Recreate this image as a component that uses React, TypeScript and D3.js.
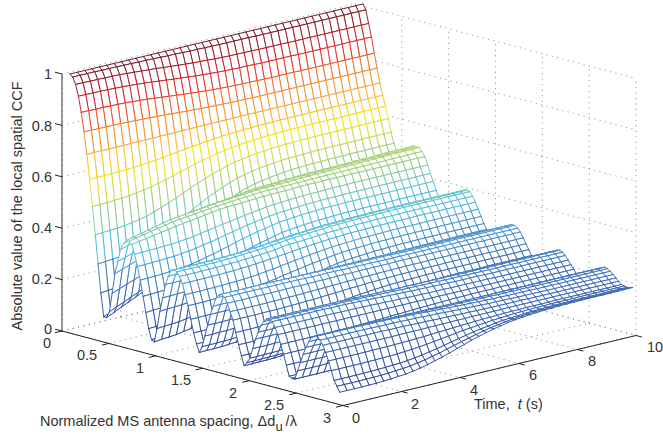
import * as d3 from "d3";

const W = 663;
const H = 438;

const timeTicks = [0, 2, 4, 6, 8, 10];
const spacingTicks = [0, 0.5, 1, 1.5, 2, 2.5, 3];
const spacingTickLabels = ["0", "0.5", "1", "1.5", "2", "2.5", "3"];
const ccfTicks = [0, 0.2, 0.4, 0.6, 0.8, 1];
const ccfTickLabels = ["0", "0.2", "0.4", "0.6", "0.8", "1"];

// mesh columns, seconds
const time = [0, 0.25, 0.5, 0.75, 1, 1.25, 1.5, 1.75, 2, 2.25, 2.5, 2.75, 3, 3.25, 3.5, 3.75, 4, 4.25, 4.5, 4.75, 5, 5.25, 5.5, 5.75, 6, 6.25, 6.5, 6.75, 7, 7.25, 7.5, 7.75, 8, 8.25, 8.5, 8.75, 9, 9.25, 9.5, 9.75, 10];

// mesh rows
const spacing = [0, 0.03, 0.06, 0.09, 0.12, 0.15, 0.18, 0.21, 0.24, 0.27, 0.3, 0.33, 0.36, 0.39, 0.42, 0.45, 0.48, 0.51, 0.54, 0.57, 0.6, 0.63, 0.66, 0.69, 0.72, 0.75, 0.78, 0.81, 0.84, 0.87, 0.9, 0.93, 0.96, 0.99, 1.02, 1.05, 1.08, 1.11, 1.14, 1.17, 1.2, 1.23, 1.26, 1.29, 1.32, 1.35, 1.38, 1.41, 1.44, 1.47, 1.5, 1.53, 1.56, 1.59, 1.62, 1.65, 1.68, 1.71, 1.74, 1.77, 1.8, 1.83, 1.86, 1.89, 1.92, 1.95, 1.98, 2.01, 2.04, 2.07, 2.1, 2.13, 2.16, 2.19, 2.22, 2.25, 2.28, 2.31, 2.34, 2.37, 2.4, 2.43, 2.46, 2.49, 2.52, 2.55, 2.58, 2.61, 2.64, 2.67, 2.7, 2.73, 2.76, 2.79, 2.82, 2.85, 2.88];

// |CCF| x 1000, one row per spacing, one value per time
const ccf = [
  [1000,1000,1000,1000,1000,1000,1000,1000,1000,1000,1000,1000,1000,1000,1000,1000,1000,1000,1000,1000,1000,1000,1000,1000,1000,1000,1000,1000,1000,1000,1000,1000,1000,1000,1000,1000,1000,1000,1000,1000,1000],
  [991,991,991,991,990,990,990,989,989,988,988,987,986,985,985,984,983,983,982,982,981,981,981,981,981,980,980,980,980,980,980,980,980,980,980,980,980,980,980,980,980],
  [965,965,964,964,963,963,962,960,958,956,954,952,949,947,944,942,940,938,937,935,934,933,933,932,932,931,931,931,931,930,930,930,930,930,930,930,930,930,930,930,930],
  [922,922,921,921,920,919,918,916,914,912,909,906,903,900,897,895,892,890,888,886,885,884,883,883,882,881,881,881,881,881,880,880,880,880,880,880,880,880,880,880,880],
  [862,862,861,861,860,859,858,856,854,852,849,846,843,840,837,835,832,830,828,826,825,824,823,823,822,821,821,821,821,821,820,820,820,820,820,820,820,820,820,820,820],
  [789,789,788,788,788,787,786,785,784,783,781,780,778,776,774,773,771,770,769,768,767,766,766,765,765,765,765,765,765,765,765,765,765,765,765,765,765,765,765,765,765],
  [705,705,705,705,705,705,706,706,706,706,707,707,707,708,708,708,709,709,709,709,709,710,710,710,710,710,710,710,710,710,710,710,710,710,710,710,710,710,710,710,710],
  [610,611,611,612,613,614,616,618,620,624,627,631,635,639,642,646,649,652,655,657,658,660,661,662,663,663,664,664,664,664,664,665,665,665,665,665,665,665,665,665,665],
  [507,508,509,511,513,515,519,524,529,537,544,552,560,568,577,584,591,597,603,607,611,614,616,618,620,621,622,623,623,624,624,624,624,624,624,625,625,625,625,625,625],
  [400,402,404,405,409,413,418,425,434,445,456,468,481,494,506,517,528,537,546,553,558,563,567,569,572,574,576,576,577,578,578,579,579,579,579,579,580,580,580,580,580],
  [290,292,295,297,302,307,314,324,336,350,364,381,398,415,432,446,460,472,484,494,501,507,512,516,519,522,524,525,526,527,528,528,529,529,529,529,530,530,530,530,530],
  [180,183,186,189,196,202,211,223,239,258,276,298,320,341,363,382,400,416,431,444,453,461,467,471,476,479,482,484,485,486,487,488,488,488,489,489,489,490,490,490,490],
  [90,102,113,125,137,148,160,182,203,225,247,268,290,308,327,345,363,382,400,408,417,425,433,442,450,451,451,452,452,453,454,454,455,456,456,457,458,458,459,459,460],
  [90,103,117,130,143,157,170,191,212,232,253,274,295,313,332,350,368,387,405,413,421,429,436,444,452,453,454,455,455,456,457,458,458,459,460,461,462,462,463,464,465],
  [115,128,140,153,165,178,190,210,230,250,270,290,310,328,347,365,383,402,420,427,433,440,447,453,460,461,461,462,462,463,464,464,465,466,466,467,468,468,469,469,470],
  [190,201,212,223,233,244,255,272,288,305,322,338,355,368,382,395,408,422,435,440,445,450,455,460,465,466,466,467,467,468,469,469,470,471,471,472,473,473,474,474,475],
  [270,280,290,300,310,320,330,342,353,365,377,388,400,408,417,425,433,442,450,453,457,460,463,467,470,471,471,472,472,473,474,474,475,476,476,477,478,478,479,479,480],
  [320,329,338,348,357,366,375,384,393,403,412,421,430,436,442,448,453,459,465,468,470,473,475,478,480,481,481,482,482,483,484,484,485,486,486,487,488,488,489,489,490],
  [370,378,387,395,403,412,420,426,432,438,443,449,455,459,463,468,472,476,480,482,483,485,487,488,490,491,491,492,492,493,494,494,495,496,496,497,498,498,499,499,500],
  [395,403,410,418,425,433,440,444,448,453,457,461,465,468,472,475,478,482,485,486,487,488,490,491,492,492,493,493,494,494,495,495,496,496,497,497,498,498,499,499,500],
  [410,417,423,430,437,443,450,453,457,460,463,467,470,473,475,478,480,483,485,486,486,487,488,489,490,491,491,492,492,493,494,494,495,496,496,497,498,498,499,499,500],
  [410,416,422,428,433,439,445,448,452,455,458,462,465,467,469,472,474,476,478,479,479,480,480,481,482,482,482,483,483,483,484,484,484,485,485,485,486,486,486,487,487],
  [400,405,410,415,420,425,430,434,438,442,447,451,455,457,458,460,462,463,465,466,466,467,468,469,470,470,470,470,470,470,470,470,470,470,470,470,470,470,470,470,470],
  [365,366,367,367,369,370,373,376,379,385,390,395,400,404,409,414,418,422,426,429,431,433,435,436,437,437,438,439,439,439,440,440,440,440,440,440,440,440,440,440,440],
  [320,321,322,323,325,326,329,333,337,343,348,354,361,367,373,379,384,388,393,397,399,401,403,405,406,407,408,408,409,409,409,409,409,410,410,410,410,410,410,410,410],
  [270,271,272,273,276,278,281,285,291,298,304,312,320,328,336,343,350,355,361,366,369,372,374,376,377,379,380,380,381,381,381,381,381,381,381,382,382,382,382,382,382],
  [210,211,213,214,217,220,224,230,237,245,253,263,273,283,293,301,309,316,323,329,333,336,339,341,343,344,346,347,348,348,349,349,349,349,349,350,350,350,350,350,350],
  [150,152,154,155,159,162,168,175,183,194,204,217,229,241,253,264,274,283,292,299,304,308,312,314,317,319,321,322,322,323,323,324,324,324,324,324,325,325,325,325,325],
  [90,92,94,96,101,106,112,120,131,144,157,172,186,201,216,229,241,252,262,271,277,282,286,290,293,295,297,298,299,299,300,300,301,301,304,304,304,305,305,305,305],
  [50,53,55,58,63,68,75,85,97,113,128,145,163,180,198,213,228,240,253,263,270,276,281,285,289,291,294,295,296,297,298,298,299,299,299,299,299,300,300,300,300],
  [45,48,50,53,58,63,71,81,93,109,124,142,160,177,195,211,226,239,252,262,270,276,281,285,288,291,294,295,296,297,298,298,299,299,299,299,300,300,300,300,300],
  [100,102,104,106,111,115,121,129,139,153,165,179,194,208,221,233,245,255,265,274,279,285,289,292,296,298,300,301,302,302,303,303,304,305,306,306,307,308,309,310,310],
  [170,172,173,175,178,180,185,191,199,208,217,227,237,247,256,265,274,282,287,292,297,300,303,305,307,309,310,311,312,312,313,314,315,316,316,317,318,318,319,319,320],
  [225,226,227,228,230,233,236,240,246,252,259,267,275,283,290,297,303,309,315,319,322,325,327,328,330,331,332,332,333,333,334,334,334,334,334,335,335,335,335,335,335],
  [280,280,280,281,281,282,283,285,287,290,293,298,302,307,312,316,320,325,328,331,334,336,338,339,340,341,342,343,344,344,345,345,345,345,346,346,346,347,348,349,350],
  [315,315,315,316,316,317,318,319,320,322,325,328,331,335,338,342,346,349,352,355,357,359,361,362,363,364,365,365,366,366,366,366,366,367,367,367,367,367,367,367,367],
  [340,340,340,340,341,341,342,343,344,346,348,350,352,355,358,361,364,366,368,370,372,374,375,376,377,378,378,379,379,379,380,380,380,380,380,380,380,380,380,380,380],
  [345,345,345,345,346,346,347,348,349,350,352,355,357,360,362,365,367,370,372,374,376,377,378,379,380,381,381,382,382,382,383,383,383,383,383,383,383,383,383,383,383],
  [340,340,340,340,341,341,342,343,344,346,348,350,352,355,358,361,364,366,368,370,372,374,375,376,377,378,378,379,379,379,379,380,380,380,380,380,380,380,380,380,380],
  [325,325,325,325,326,326,327,328,329,331,333,335,337,340,345,348,349,351,353,355,357,359,360,361,362,363,363,364,364,364,364,365,365,365,365,365,365,365,365,365,365],
  [300,300,300,300,301,301,302,303,305,306,309,311,314,317,320,323,327,329,332,334,336,338,340,341,342,342,343,343,344,344,344,344,345,345,345,345,345,345,345,345,345],
  [260,260,260,261,261,262,263,264,266,268,271,275,278,283,287,291,295,299,302,306,309,311,313,314,316,316,317,318,319,319,319,319,319,320,320,320,320,320,320,320,320],
  [220,220,220,221,222,222,224,225,228,231,234,239,243,249,254,259,264,269,273,277,281,284,286,288,289,291,292,292,293,293,294,294,294,294,295,295,295,295,295,295,295],
  [170,170,171,171,172,173,175,177,180,184,189,195,201,208,215,222,229,235,240,246,251,255,258,260,262,264,265,266,267,268,268,269,269,269,269,270,270,270,270,270,270],
  [120,120,121,121,123,124,127,129,133,138,145,153,160,169,179,188,197,205,212,219,225,231,234,238,240,242,244,245,247,247,248,248,249,249,249,249,250,250,250,250,250],
  [80,80,81,82,83,85,88,91,96,103,111,121,131,142,153,165,176,186,196,204,212,219,223,228,231,233,236,237,239,240,241,241,241,242,242,242,242,243,243,243,243],
  [50,51,51,52,54,56,60,63,69,76,86,98,110,124,138,152,166,177,189,199,208,215,221,226,230,233,235,237,239,240,241,241,241,242,242,242,242,242,242,240,240],
  [75,76,76,77,78,80,83,87,92,98,106,116,126,138,149,161,172,182,192,200,209,215,220,224,228,230,233,234,236,237,238,238,238,239,239,239,239,239,240,240,240],
  [120,120,121,121,123,124,126,129,133,138,144,151,159,167,176,184,193,200,207,214,220,224,228,231,234,235,237,238,239,240,241,241,242,243,243,244,244,244,245,245,245],
  [165,165,165,166,167,167,170,170,174,178,183,188,194,200,207,212,218,224,229,233,237,240,243,245,247,248,250,250,251,252,254,255,256,256,257,257,257,257,258,258,258],
  [210,210,210,211,211,212,213,214,216,219,222,225,229,233,237,241,245,248,252,255,258,260,262,263,264,265,266,267,268,269,269,269,269,269,270,270,270,270,270,270,270],
  [245,245,245,245,246,246,247,247,249,250,252,254,256,258,261,263,266,268,270,271,273,275,276,277,278,278,279,279,279,279,279,280,280,280,280,280,280,280,280,280,280],
  [280,280,280,280,280,280,281,281,281,281,282,283,283,284,285,285,286,287,287,288,288,289,289,289,289,289,290,290,290,290,290,290,290,290,290,290,290,290,290,290,290],
  [293,293,293,293,293,293,293,293,293,293,293,294,294,294,294,294,294,294,294,295,295,295,295,295,295,295,295,295,295,295,295,295,295,295,295,295,295,295,295,295,295],
  [300,300,300,300,300,300,300,300,299,299,299,299,298,298,298,297,297,297,296,296,296,296,296,296,295,295,295,295,295,295,295,295,295,295,295,295,295,295,295,295,295],
  [290,290,290,290,290,290,290,290,290,290,290,289,289,289,289,289,288,288,288,288,288,287,287,287,287,287,287,287,287,287,287,287,287,287,287,287,287,287,287,287,287],
  [270,270,270,270,270,270,270,270,271,271,271,271,272,272,272,273,273,273,274,274,274,274,274,275,275,275,275,275,275,275,275,275,275,275,275,275,275,275,275,275,275],
  [240,240,240,240,240,240,241,241,242,242,243,244,245,246,247,248,249,250,251,251,252,253,253,254,254,254,254,255,255,255,255,255,255,255,255,255,255,255,255,255,255],
  [210,210,210,210,211,211,211,212,213,214,215,216,218,220,221,223,225,226,228,229,230,231,232,233,233,234,234,234,234,235,235,235,235,235,235,235,235,235,235,235,235],
  [165,165,165,166,166,167,168,169,170,172,175,178,181,184,188,191,195,198,201,203,206,208,209,210,211,212,213,213,214,214,214,214,214,215,215,215,215,215,215,215,215],
  [120,120,120,121,122,122,124,125,128,131,134,139,143,149,154,159,164,169,173,177,181,184,186,188,189,191,192,192,193,194,194,194,194,194,195,195,195,195,195,195,195],
  [80,80,81,81,82,83,85,87,90,94,99,105,111,118,125,132,139,145,151,156,161,165,168,171,173,174,176,177,178,178,178,179,179,179,179,180,180,180,180,180,180],
  [45,45,46,46,47,49,51,54,58,63,69,76,84,93,101,110,119,126,134,140,146,151,155,158,161,163,164,166,167,167,168,168,169,169,169,169,169,170,170,170,170],
  [60,60,61,61,62,63,66,68,71,76,81,88,94,103,110,117,125,132,138,143,149,153,156,159,161,163,165,166,167,167,168,168,169,169,169,169,170,170,170,170,170],
  [80,80,81,81,82,83,85,87,90,93,98,104,110,117,124,130,137,143,148,153,157,161,164,166,168,170,171,172,173,173,174,174,174,174,175,175,175,175,175,175,175],
  [120,120,120,121,121,122,124,125,127,130,133,138,142,146,151,156,161,165,169,173,176,179,181,183,184,186,186,187,188,188,189,189,189,189,189,190,190,190,190,190,190],
  [160,160,160,160,161,161,162,163,165,166,169,171,174,177,180,183,187,189,192,194,196,198,200,201,202,202,203,203,204,204,204,204,205,205,205,205,205,205,205,205,205],
  [190,190,190,190,190,190,191,191,192,192,193,194,196,198,199,201,204,206,207,209,211,212,214,215,215,217,217,218,218,219,219,219,219,220,220,220,220,220,220,220,220],
  [220,220,220,220,220,220,220,220,221,221,222,222,223,224,225,226,227,228,229,230,231,231,232,233,233,234,234,234,234,234,235,235,235,235,235,235,235,235,235,235,235],
  [237,237,237,237,237,237,237,237,237,237,238,238,238,238,239,239,239,240,240,240,241,241,241,241,241,242,242,242,242,242,242,242,242,242,242,242,242,242,242,242,242],
  [250,250,250,250,250,250,250,250,250,250,250,249,249,249,248,248,248,247,247,247,246,246,246,246,246,246,245,245,245,245,245,245,245,245,245,245,245,245,245,245,245],
  [250,250,250,250,250,250,250,250,250,249,249,249,248,248,247,246,246,245,244,243,243,242,242,242,241,241,241,241,240,240,240,240,240,240,240,240,240,240,240,240,240],
  [245,245,245,245,245,245,245,245,244,244,244,243,242,241,240,239,238,237,236,235,234,234,233,232,232,231,231,231,231,230,230,230,230,230,230,230,230,230,230,230,230],
  [225,225,225,225,225,225,225,225,225,224,224,224,223,223,222,221,220,220,219,218,218,217,217,217,216,216,216,216,216,216,215,215,215,215,215,215,215,215,215,215,215],
  [200,200,200,200,200,200,200,200,200,200,200,200,200,200,200,200,200,200,200,200,200,200,200,200,200,200,200,200,200,200,200,200,200,200,200,200,200,200,200,200,200],
  [165,165,165,165,165,165,165,166,166,166,167,168,169,170,171,173,174,175,177,178,179,180,181,182,183,183,184,184,184,184,185,185,185,185,185,185,185,185,185,185,185],
  [130,130,130,130,130,130,131,131,132,133,134,136,138,140,142,145,148,151,154,156,158,160,162,164,165,166,167,168,168,169,169,169,169,170,170,170,170,170,170,170,170],
  [90,90,90,90,90,91,91,92,94,95,97,100,103,108,112,117,122,126,131,136,140,143,147,150,152,154,155,156,157,158,158,159,159,159,159,159,160,160,160,160,160],
  [50,50,50,50,51,51,52,53,55,57,61,65,70,76,83,90,97,105,112,118,125,130,135,139,142,145,147,149,150,151,152,153,153,154,154,154,154,155,155,155,155],
  [45,45,45,45,46,46,47,48,51,53,56,61,67,73,80,88,96,104,112,119,125,131,137,141,144,147,149,151,153,154,155,155,156,156,156,156,156,157,157,157,157],
  [45,45,45,45,46,46,47,48,51,53,57,61,67,74,81,89,97,105,113,120,127,132,138,143,146,149,151,153,155,156,157,158,158,159,159,159,159,160,160,160,160],
  [80,80,80,80,81,81,82,83,85,87,90,93,98,104,110,116,122,129,135,141,147,151,156,160,163,166,168,170,171,172,173,174,174,174,175,175,175,175,175,175,175],
  [115,115,115,115,115,116,117,117,119,120,123,126,129,134,139,144,149,155,160,165,169,173,177,180,182,184,186,187,188,189,190,190,190,190,190,190,190,190,190,190,190],
  [150,150,150,150,150,151,151,152,153,154,155,157,160,163,166,170,173,177,181,184,187,190,192,194,196,197,198,199,200,200,201,201,201,201,201,202,202,202,202,202,202],
  [180,180,180,180,180,180,181,181,182,182,184,186,188,190,192,194,197,200,203,205,207,209,211,212,214,214,215,215,215,215,215,215,215,215,215,215,215,215,215,215,215],
  [205,205,205,205,205,205,205,205,206,206,207,207,208,209,210,211,212,213,214,215,216,216,217,218,218,218,219,219,219,219,220,220,220,220,220,220,220,220,220,220,220],
  [225,225,225,225,225,225,225,225,225,225,225,225,225,225,225,225,225,225,225,225,225,225,225,225,225,225,225,225,225,225,225,225,225,225,225,225,225,225,225,225,225],
  [232,232,232,232,232,232,232,232,231,231,231,231,230,230,229,228,228,227,226,226,225,225,224,224,224,223,223,223,223,223,222,222,222,222,222,222,222,222,222,222,222],
  [235,235,235,235,235,235,235,234,234,234,233,232,231,230,229,227,226,225,223,222,221,220,219,218,217,217,216,216,216,216,215,215,215,215,215,215,215,215,215,215,215],
  [222,222,222,222,222,222,222,222,221,221,221,220,219,219,218,216,216,214,213,212,211,210,209,208,208,207,207,206,206,206,206,205,205,205,205,205,205,205,205,205,205],
  [205,205,205,205,205,205,205,205,205,204,204,204,203,202,202,201,200,200,199,198,198,197,197,196,196,196,196,196,195,195,195,195,195,195,195,195,195,195,195,195,195],
  [180,180,180,180,180,180,180,180,180,180,181,181,181,181,182,182,182,183,183,183,184,184,184,184,184,185,185,185,185,185,185,185,185,185,185,185,185,185,185,185,185],
  [150,150,150,150,150,150,151,151,151,152,153,154,155,156,158,160,161,163,165,166,168,169,170,171,172,173,173,174,174,174,174,175,175,175,175,175,175,175,175,175,175],
  [115,115,115,115,115,116,116,117,118,119,121,123,126,129,133,137,141,145,149,152,155,158,161,163,165,167,168,169,170,170,171,171,171,171,172,172,172,172,172,172,172],
  [80,80,80,80,81,81,82,83,85,86,89,93,97,103,108,114,121,127,133,139,144,148,153,157,159,161,163,165,166,167,168,168,169,169,169,169,169,170,170,170,170],
  [60,60,60,60,61,61,62,63,66,68,71,76,81,88,94,103,110,118,125,132,139,145,150,155,158,161,164,165,167,168,170,170,170,171,171,171,171,171,172,172,172],
  [40,40,40,40,41,41,43,44,47,49,54,59,66,74,82,91,101,110,120,128,136,143,149,155,159,162,165,167,169,170,172,172,173,173,174,174,174,174,174,175,175],
];

const colorStops = [0, 0.1, 0.2, 0.3, 0.35, 0.42, 0.47, 0.54, 0.61, 0.69, 0.78, 0.86, 0.93, 1];
const colorValues = ["#34449a", "#3a56a8", "#3f6cb8", "#4f9cd6", "#50c0ec", "#7ecbb0", "#95cf85", "#cfdc5a", "#f7e614", "#fbb040", "#f5822a", "#ec2f2f", "#b5232f", "#6f1d2b"];
const color = d3.scaleLinear<string>().domain(colorStops).range(colorValues);

// oblique box: each data axis moves a point along its own screen vector
const tx = d3.scaleLinear().domain([0, 10]).range([0, 293]);
const ty = d3.scaleLinear().domain([0, 10]).range([0, -70]);
const dx = d3.scaleLinear().domain([0, 3]).range([0, 281]);
const dy = d3.scaleLinear().domain([0, 3]).range([0, 74.5]);
const zy = d3.scaleLinear().domain([0, 1]).range([0, -257]);
const origin = { x: 62, y: 331 };
const surfaceShift = 8; // mesh sits a little to the right of the box in the original

const project = (t: number, d: number, z: number, shift = 0): [number, number] => [
  origin.x + tx(t) + dx(d) + shift,
  origin.y + ty(t) + dy(d) + zy(z),
];

function Dotted({ a, b }: { a: [number, number]; b: [number, number] }) {
  return <line x1={a[0]} y1={a[1]} x2={b[0]} y2={b[1]} stroke="#777" strokeWidth={0.9} strokeDasharray="1 4.5" />;
}

function Grid() {
  return (
    <g>
      {ccfTicks.map((z) => (
        <g key={z}>
          <Dotted a={project(0, 0, z)} b={project(10, 0, z)} />
          <Dotted a={project(10, 0, z)} b={project(10, 3, z)} />
        </g>
      ))}
      {timeTicks.map((t) => (
        <g key={t}>
          <Dotted a={project(t, 0, 0)} b={project(t, 0, 1)} />
          <Dotted a={project(t, 0, 0)} b={project(t, 3, 0)} />
        </g>
      ))}
      {spacingTicks.map((d) => (
        <g key={d}>
          <Dotted a={project(10, d, 0)} b={project(10, d, 1)} />
          <Dotted a={project(0, d, 0)} b={project(10, d, 0)} />
        </g>
      ))}
    </g>
  );
}

function Axes() {
  const o = project(0, 0, 0);
  const top = project(0, 0, 1);
  const front = project(0, 3, 0);
  const right = project(10, 3, 0);
  return (
    <g>
      <line x1={o[0]} y1={o[1]} x2={top[0]} y2={top[1]} stroke="#555" strokeWidth={1.2} />
      <line x1={o[0]} y1={o[1]} x2={front[0]} y2={front[1]} stroke="#222" strokeWidth={1} />
      <line x1={front[0]} y1={front[1]} x2={right[0]} y2={right[1]} stroke="#222" strokeWidth={1} />
      {ccfTicks.map((z) => {
        const p = project(0, 0, z);
        return <line key={z} x1={p[0]} y1={p[1]} x2={p[0] - 7} y2={p[1] - 1.8} stroke="#222" />;
      })}
      {spacingTicks.map((d) => {
        const p = project(0, d, 0);
        return <line key={d} x1={p[0]} y1={p[1]} x2={p[0] - 7} y2={p[1] + 1.7} stroke="#222" />;
      })}
      {timeTicks.map((t) => {
        const p = project(t, 3, 0);
        return <line key={t} x1={p[0]} y1={p[1]} x2={p[0] + 6} y2={p[1] + 1.6} stroke="#222" />;
      })}
    </g>
  );
}

function Mesh() {
  const pt = (k: number, i: number) => project(time[i], spacing[k], ccf[k][i] / 1000, surfaceShift);
  const zAt = (k: number, i: number) => ccf[k][i] / 1000;
  const cells = [];
  // back to front so the white faces hide what is behind them
  for (let k = 0; k < spacing.length - 1; k++) {
    for (let i = time.length - 2; i >= 0; i--) {
      const corners: [number, number][] = [[k, i], [k, i + 1], [k + 1, i + 1], [k + 1, i]];
      const pts = corners.map(([a, b]) => pt(a, b));
      cells.push(
        <g key={`${k}-${i}`}>
          <path d={d3.line()(pts) + "Z"} fill="#fff" />
          {pts.map((p, n) => {
            const m = (n + 1) % 4;
            const q = pts[m];
            const z = (zAt(corners[n][0], corners[n][1]) + zAt(corners[m][0], corners[m][1])) / 2;
            return <line key={n} x1={p[0]} y1={p[1]} x2={q[0]} y2={q[1]} stroke={color(z)} strokeWidth={1} strokeLinecap="round" />;
          })}
        </g>
      );
    }
  }
  return <g>{cells}</g>;
}

const ccfLabelPos = [329, 279, 228, 177, 126, 74];
const spacingLabelPos: [number, number][] = [[47, 343], [87, 355], [140, 368], [181, 380], [233, 393], [274, 405], [327, 418]];
const timeLabelPos: [number, number][] = [[356, 418], [415, 404], [474, 390], [533, 375], [592, 361], [655, 347]];

export default function App() {
  return (
    <svg
      width={W}
      height={H}
      viewBox={`0 0 ${W} ${H}`}
      style={{ position: "absolute", left: 0, top: 0, background: "#fff", display: "block" }}
      fontFamily="'Liberation Sans', Arial, sans-serif"
      fontSize={14.5}
      fill="#333"
    >
      <Grid />
      <Axes />
      <Mesh />
      {ccfTickLabels.map((s, i) => (
        <text key={s} x={52} y={ccfLabelPos[i]} textAnchor="end" dominantBaseline="central">{s}</text>
      ))}
      {spacingTickLabels.map((s, i) => (
        <text key={s} x={spacingLabelPos[i][0]} y={spacingLabelPos[i][1]} textAnchor="middle" dominantBaseline="central">{s}</text>
      ))}
      {timeTicks.map((t, i) => (
        <text key={t} x={timeLabelPos[i][0]} y={timeLabelPos[i][1]} textAnchor="middle" dominantBaseline="central">{t}</text>
      ))}
      <text transform="translate(17,206) rotate(-90)" textAnchor="middle" dominantBaseline="central" fontSize={14.5}>
        Absolute value of the local spatial CCF
      </text>
      <text x={40} y={426} fontSize={14.5}>
        Normalized MS antenna spacing, Δd
        <tspan dy={5} fontSize={13}>u</tspan>
        <tspan dy={-5} dx={3}>/λ</tspan>
      </text>
      <text x={474} y={409} fontSize={14.5} xmlSpace="preserve">
        Time,  <tspan fontStyle="italic">t</tspan> (s)
      </text>
    </svg>
  );
}
